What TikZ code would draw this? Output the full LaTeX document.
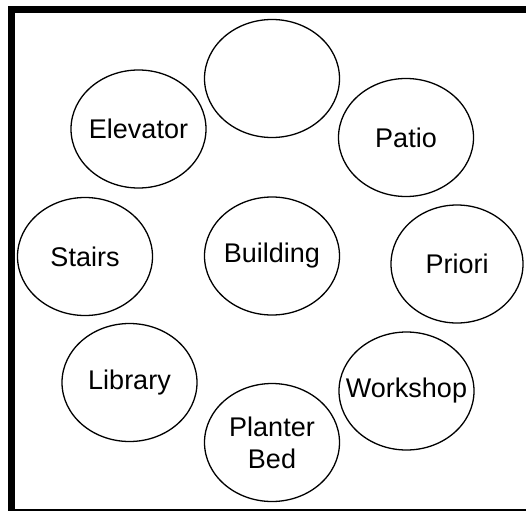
\documentclass[tikz,border=0pt]{standalone}
\usepackage{fontspec}
\setmainfont{Liberation Sans}
\usetikzlibrary{shapes.geometric}
\begin{document}
\begin{tikzpicture}[x=1pt,y=-1pt,
  room/.style={draw=black, line width=1.3pt, shape=ellipse, inner sep=0pt,
    minimum width=135pt, minimum height=118pt},
  roomtext/.style={font=\fontsize{27}{32}\selectfont, align=center, inner sep=0pt}]
\useasboundingbox (0,0) rectangle (526,511);
\fill[white] (0,0) rectangle (526,511);
% frame
\fill[black] (8,6) rectangle (15,511);
\fill[black] (8,6) rectangle (526,13);
\fill[black] (15,509) rectangle (526,510.5);
% rooms
\node[room] (top) at (272,78.5) {};
\node[room, label={[roomtext]center:Elevator}] (elevator) at (138.5,129) {};
\node[room, label={[roomtext]center:Patio}] (patio) at (406,137.5) {};
\node[room, label={[roomtext]center:Stairs}] (stairs) at (85,256.5) {};
\node[room, label={[roomtext]center:Building}] (building) at (272,256) {};
\node[room, minimum width=132pt, label={[roomtext]center:Priori}] (priori) at (457,264) {};
\node[room, label={[roomtext]center:Library}] (library) at (129.5,382.5) {};
\node[room, label={[roomtext]center:Workshop}] (workshop) at (406.5,391) {};
\node[room, label={[roomtext]center:Planter\\Bed}] (planter) at (272,442.5) {};
\end{tikzpicture}
\end{document}
